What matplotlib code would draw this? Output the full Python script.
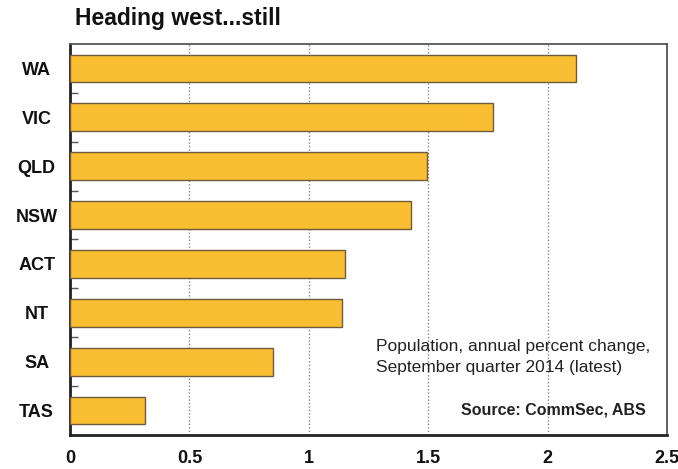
import numpy as np
import matplotlib.pyplot as plt

plt.rcParams['font.family'] = ['Liberation Sans', 'DejaVu Sans']

states = ['WA', 'VIC', 'QLD', 'NSW', 'ACT', 'NT', 'SA', 'TAS']
growth = [2.12, 1.77, 1.495, 1.43, 1.15, 1.14, 0.85, 0.315]

fig = plt.figure(figsize=(6.78, 4.69), dpi=100)
ax = fig.add_axes([70 / 678, 1 - 435 / 469, 597 / 678, 391 / 469])

y = np.arange(len(states))
ax.barh(y, growth, height=0.57, color='#F9BE32', edgecolor='#6E5B3A',
        linewidth=1.0, zorder=3)

ax.set_xlim(0, 2.5)
ax.set_ylim(len(states) - 0.5, -0.5)
ax.set_xticks([0, 0.5, 1, 1.5, 2, 2.5])
ax.set_xticklabels(['0', '0.5', '1', '1.5', '2', '2.5'],
                   fontsize=13, fontweight='bold', color='#111111')
ax.set_yticks(y)
ax.set_yticklabels(states, fontsize=13, fontweight='bold', color='#111111',
                   ha='center')
ax.tick_params(axis='x', length=0, pad=11)
ax.tick_params(axis='y', which='major', length=0, pad=24)
ax.set_yticks(y[:-1] + 0.5, minor=True)
ax.tick_params(axis='y', which='minor', direction='in', length=6,
               width=1, color='#555555')

ax.grid(axis='x', linestyle=(0, (1, 1.5)), color='#888888',
        linewidth=1, zorder=0)

for side in ['left', 'bottom']:
    ax.spines[side].set_linewidth(2)
    ax.spines[side].set_color('#222222')
for side in ['top', 'right']:
    ax.spines[side].set_linewidth(1.3)
    ax.spines[side].set_color('#555555')

fig.text(75 / 678, 1 - 19 / 469, 'Heading west...still', fontsize=16.5,
         fontweight='bold', va='center', ha='left', color='#111111')

ax.text(1.28, 5.9, 'Population, annual percent change,\nSeptember quarter 2014 (latest)',
        fontsize=12.5, va='center', ha='left', color='#222222', zorder=4,
        linespacing=1.45)
ax.text(2.41, 6.98, 'Source: CommSec, ABS', fontsize=11.5,
        fontweight='bold', va='center', ha='right', color='#222222', zorder=4)

plt.savefig('out.png', dpi=100)
